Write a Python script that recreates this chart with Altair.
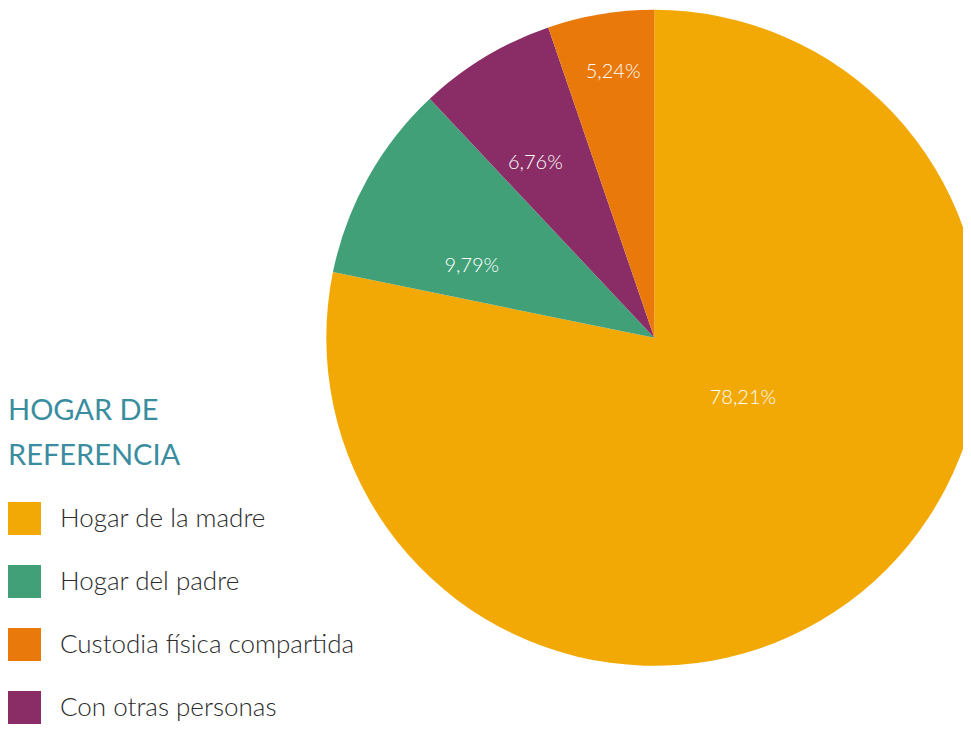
import altair as alt
import pandas as pd

# Data (pie order, clockwise from 12 o'clock)
categories = ["Hogar de la madre", "Hogar del padre", "Con otras personas", "Custodia física compartida"]
values = [78.21, 9.79, 6.76, 5.24]
labels = ["78,21%", "9,79%", "6,76%", "5,24%"]

# Legend order and colours
legend_order = ["Hogar de la madre", "Hogar del padre", "Custodia física compartida", "Con otras personas"]
legend_colors = ["#F3A905", "#41A078", "#E8790A", "#8A2D66"]

df = pd.DataFrame({"cat": categories, "val": values, "label": labels, "orden": list(range(len(categories)))})

CX, CY, R = 646.3, 329.8, 328
FONT = "Lato"

# label placement (radius in px, angular offset in radians from slice middle)
label_style = {0: (107, -0.291), 1: (196, -0.136), 2: (211, -0.057), 3: (269, 0.011)}

base = alt.Chart(df)

pie = base.mark_arc(radius=R).encode(
    theta=alt.Theta("val:Q", stack=True),
    color=alt.Color(
        "cat:N",
        scale=alt.Scale(domain=legend_order, range=legend_colors),
        legend=alt.Legend(
            orient="none",
            legendX=0,
            legendY=389,
            title=["HOGAR DE", "REFERENCIA"],
            titleFont=FONT,
            titleFontSize=29,
            titleFontWeight="normal",
            titleColor="#3A8D9F",
            titleLineHeight=45,
            titlePadding=31,
            symbolType="square",
            symbolSize=1089,
            symbolStrokeWidth=0,
            symbolOpacity=1,
            labelFont=FONT,
            labelFontSize=26,
            labelFontWeight=300,
            labelColor="#2B2B2B",
            labelOffset=19,
            rowPadding=30,
            labelLimit=400,
        ),
    ),
    order=alt.Order("orden:Q"),
    x=alt.value(CX),
    y=alt.value(CY),
)

layers = [pie]
for i, (r, off) in label_style.items():
    t = (
        base.transform_window(cum="sum(val)", sort=[alt.SortField("orden")], frame=[None, 0])
        .transform_calculate(mid="datum.cum - datum.val / 2")
        .transform_filter(alt.datum.orden == i)
        .mark_text(radius=r, thetaOffset=off, font=FONT, fontSize=20, fontWeight=300, color="white")
        .encode(
            theta=alt.Theta("mid:Q", scale=alt.Scale(domain=[0, 100]), stack=None),
            text="label:N",
            x=alt.value(CX),
            y=alt.value(CY),
        )
    )
    layers.append(t)

chart = (
    alt.layer(*layers)
    .properties(width=955, height=718, padding=0, autosize=alt.AutoSizeParams(type="none"))
    .configure_view(stroke=None)
)

chart.save("out.html", embed_options={"renderer": "svg", "actions": False})
